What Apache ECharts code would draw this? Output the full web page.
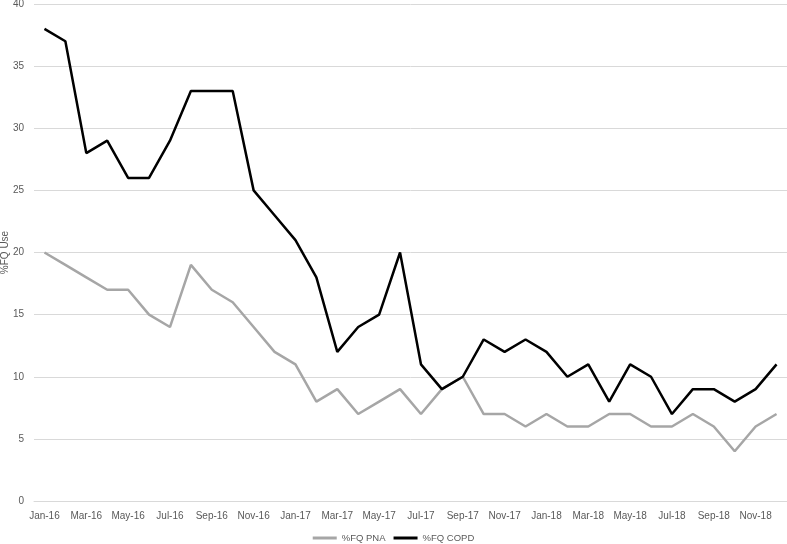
<!DOCTYPE html>
<html>
<head>
<meta charset="utf-8">
<script src="https://cdn.jsdelivr.net/npm/echarts@6/dist/echarts.min.js"></script>
<style>
  html, body { margin: 0; padding: 0; background: #fff; }
  #chart { width: 787px; height: 544px; }
</style>
</head>
<body>
<div id="chart"></div>
<script>
// months Jan-16 .. Dec-18
const months = [
  'Jan-16', 'Feb-16', 'Mar-16', 'Apr-16', 'May-16', 'Jun-16', 'Jul-16', 'Aug-16', 'Sep-16', 'Oct-16', 'Nov-16', 'Dec-16',
  'Jan-17', 'Feb-17', 'Mar-17', 'Apr-17', 'May-17', 'Jun-17', 'Jul-17', 'Aug-17', 'Sep-17', 'Oct-17', 'Nov-17', 'Dec-17',
  'Jan-18', 'Feb-18', 'Mar-18', 'Apr-18', 'May-18', 'Jun-18', 'Jul-18', 'Aug-18', 'Sep-18', 'Oct-18', 'Nov-18', 'Dec-18'
]

const pna = [
  20, 19, 18, 17, 17, 15, 14, 19, 17, 16, 14, 12,
  11, 8, 9, 7, 8, 9, 7, 9, 10, 7, 7, 6,
  7, 6, 6, 7, 7, 6, 6, 7, 6, 4, 6, 7
]

const copd = [
  38, 37, 28, 29, 26, 26, 29, 33, 33, 33, 25, 23,
  21, 18, 12, 14, 15, 20, 11, 9, 10, 13, 12, 13,
  12, 10, 11, 8, 11, 10, 7, 9, 9, 8, 9, 11
]

const chart = echarts.init(document.getElementById('chart'))

chart.setOption({
  animation: false,
  textStyle: { fontFamily: 'Liberation Sans, Arial, sans-serif' },
  grid: { left: 34, right: 0, top: 4, bottom: 43, containLabel: false, outerBoundsMode: 'none' },
  legend: {
    bottom: -4,
    left: 'center',
    itemWidth: 24,
    itemHeight: 3,
    itemGap: 8,
    icon: 'rect',
    textStyle: { color: '#595959', fontSize: 9.5 },
    data: ['%FQ PNA', '%FQ COPD']
  },
  xAxis: {
    type: 'category',
    data: months,
    boundaryGap: true,
    axisLine: { show: true, lineStyle: { color: '#d9d9d9', width: 1 } },
    axisTick: { show: false },
    axisLabel: { interval: 1, color: '#595959', fontSize: 10, margin: 10 }
  },
  yAxis: {
    type: 'value',
    min: 0,
    max: 40,
    interval: 5,
    name: '%FQ Use',
    nameLocation: 'middle',
    nameGap: 24,
    nameMoveOverlap: false,
    nameRotate: 90,
    nameTextStyle: { color: '#595959', fontSize: 10 },
    axisLine: { show: false },
    axisTick: { show: false },
    axisLabel: { color: '#595959', fontSize: 10, margin: 10 },
    splitLine: { lineStyle: { color: '#d9d9d9', width: 1 } }
  },
  series: [
    {
      name: '%FQ PNA',
      type: 'line',
      data: pna,
      symbol: 'none',
      itemStyle: { color: '#a6a6a6' },
      lineStyle: { color: '#a6a6a6', width: 2.5 }
    },
    {
      name: '%FQ COPD',
      type: 'line',
      data: copd,
      symbol: 'none',
      itemStyle: { color: '#000000' },
      lineStyle: { color: '#000000', width: 2.5 }
    }
  ]
})
</script>
</body>
</html>
